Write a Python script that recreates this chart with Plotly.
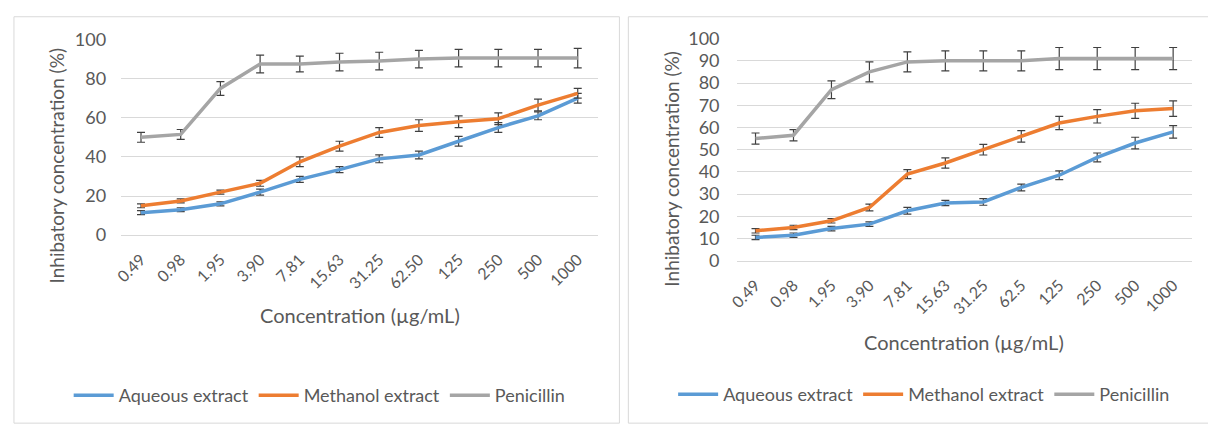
import plotly.graph_objects as go

W, H = 1208, 436

labels_left = ["0.49", "0.98", "1.95", "3.90", "7.81", "15.63", "31.25", "62.50", "125", "250", "500", "1000"]
labels_right = ["0.49", "0.98", "1.95", "3.90", "7.81", "15.63", "31.25", "62.5", "125", "250", "500", "1000"]

series_names = ["Aqueous extract", "Methanol extract", "Penicillin"]

aqueous_left = [11.5, 13, 16, 22, 28.5, 33.5, 39, 41, 48, 55, 61, 70]
methanol_left = [15, 17.5, 22, 26.5, 37.5, 45.5, 52.5, 56, 58, 59.5, 66.5, 72.5]
penicillin_left = [50, 51.5, 75, 87.5, 87.5, 88.5, 89, 90, 90.5, 90.5, 90.5, 90.5]
aqueous_left_err = [1, 1, 1, 1.5, 1.5, 1.5, 2, 2, 2.5, 2.5, 2, 2.5]
methanol_left_err = [1, 1, 1, 1.5, 2.5, 2.5, 2.5, 3, 3, 3, 3, 2.5]
penicillin_left_err = [2.5, 2.5, 3.5, 4.5, 4, 4.5, 4.5, 4.5, 4.5, 4.5, 4.5, 5]

aqueous_right = [10.5, 11.5, 14.5, 16.5, 22.5, 26, 26.5, 33, 38.5, 46.5, 53, 58]
methanol_right = [13.5, 15, 18, 24, 39, 44, 50, 56, 62, 65, 67.5, 68.5]
penicillin_right = [55, 56.5, 77, 85, 89.5, 90, 90, 90, 91, 91, 91, 91]
aqueous_right_err = [1, 1, 1, 1, 1.5, 1.2, 1.5, 1.5, 2, 2, 2.6, 2.8]
methanol_right_err = [1, 1, 1, 1.5, 2, 2.3, 2.4, 2.6, 3, 3, 3.4, 3.5]
penicillin_right_err = [2.5, 2.5, 4, 4.5, 4.5, 4.5, 4.5, 4.5, 5, 5, 5, 5]

colors = ["#5B9BD5", "#ED7D31", "#A5A5A5"]
FONT = "Lato"
TXT = "#595959"
GRID = "#D9D9D9"

fig = go.Figure()

left_sets = [(aqueous_left, aqueous_left_err), (methanol_left, methanol_left_err), (penicillin_left, penicillin_left_err)]
right_sets = [(aqueous_right, aqueous_right_err), (methanol_right, methanol_right_err), (penicillin_right, penicillin_right_err)]

for name, col, (vals, err) in zip(series_names, colors, left_sets):
    fig.add_trace(go.Scatter(
        x=labels_left, y=vals, name=name, mode="lines",
        line=dict(color=col, width=3.5),
        error_y=dict(type="data", array=err, visible=True, color="#404040", thickness=1.2, width=4),
        xaxis="x", yaxis="y", legend="legend",
    ))

for name, col, (vals, err) in zip(series_names, colors, right_sets):
    fig.add_trace(go.Scatter(
        x=labels_right, y=vals, name=name, mode="lines",
        line=dict(color=col, width=3.5),
        error_y=dict(type="data", array=err, visible=True, color="#404040", thickness=1.2, width=4),
        xaxis="x2", yaxis="y2", legend="legend2",
    ))

def px_x(p):
    return p / W

def px_y(p):
    return 1 - p / H

xcommon = dict(type="category", tickangle=-45, showgrid=False, showline=True, linecolor=GRID,
               linewidth=1, ticks="", tickfont=dict(family=FONT, size=16, color=TXT),
               ticklabelstandoff=8, range=[-0.5, 11.5], fixedrange=True)
ycommon = dict(range=[0, 100], showgrid=True, gridcolor=GRID, gridwidth=1, zeroline=False,
               showline=False, ticks="", tickfont=dict(family=FONT, size=18, color=TXT),
               fixedrange=True)

layout_x1 = dict(xcommon, domain=[px_x(113), px_x(593)], anchor="y")
layout_y1 = dict(ycommon, domain=[px_y(235), px_y(29)], anchor="x", dtick=20, ticklabelstandoff=14)
layout_x2 = dict(xcommon, domain=[px_x(733), px_x(1192)], anchor="y2")
layout_y2 = dict(ycommon, domain=[px_y(262), px_y(28)], anchor="x2", dtick=10, ticklabelstandoff=16)

legend_common = dict(orientation="h", xanchor="center", yanchor="middle",
                     font=dict(family=FONT, size=18, color=TXT), bgcolor="rgba(0,0,0,0)",
                     itemwidth=40, tracegroupgap=0)

TITLE_SIZE = 20

fig.update_layout(
    width=W, height=H, margin=dict(l=0, r=0, t=0, b=0),
    paper_bgcolor="white", plot_bgcolor="white",
    xaxis=layout_x1, yaxis=layout_y1, xaxis2=layout_x2, yaxis2=layout_y2,
    legend=dict(legend_common, x=px_x(313), y=px_y(404)),
    legend2=dict(legend_common, x=px_x(922), y=px_y(403)),
    shapes=[
        dict(type="rect", xref="paper", yref="paper", x0=px_x(5), x1=px_x(615), y0=px_y(433), y1=px_y(5),
             line=dict(color=GRID, width=1), fillcolor="rgba(0,0,0,0)", layer="below"),
        dict(type="rect", xref="paper", yref="paper", x0=px_x(624), x1=px_x(1215), y0=px_y(433), y1=px_y(5),
             line=dict(color=GRID, width=1), fillcolor="rgba(0,0,0,0)", layer="below"),
    ],
    annotations=[
        dict(text="Concentration (µg/mL)", xref="paper", yref="paper", x=px_x(354), y=px_y(319),
             showarrow=False, xanchor="center", yanchor="middle", font=dict(family=FONT, size=TITLE_SIZE, color=TXT)),
        dict(text="Concentration (µg/mL)", xref="paper", yref="paper", x=px_x(962), y=px_y(348),
             showarrow=False, xanchor="center", yanchor="middle", font=dict(family=FONT, size=TITLE_SIZE, color=TXT)),
        dict(text="Inhibatory concentration (%)", xref="paper", yref="paper", x=px_x(48), y=px_y(162),
             showarrow=False, textangle=-90, xanchor="center", yanchor="middle",
             font=dict(family=FONT, size=19, color=TXT)),
        dict(text="Inhibatory concentration (%)", xref="paper", yref="paper", x=px_x(668), y=px_y(166),
             showarrow=False, textangle=-90, xanchor="center", yanchor="middle",
             font=dict(family=FONT, size=19, color=TXT)),
    ],
)

fig.write_html("out.html", config={"displayModeBar": False},
               post_script="document.body.style.margin='0px';")
